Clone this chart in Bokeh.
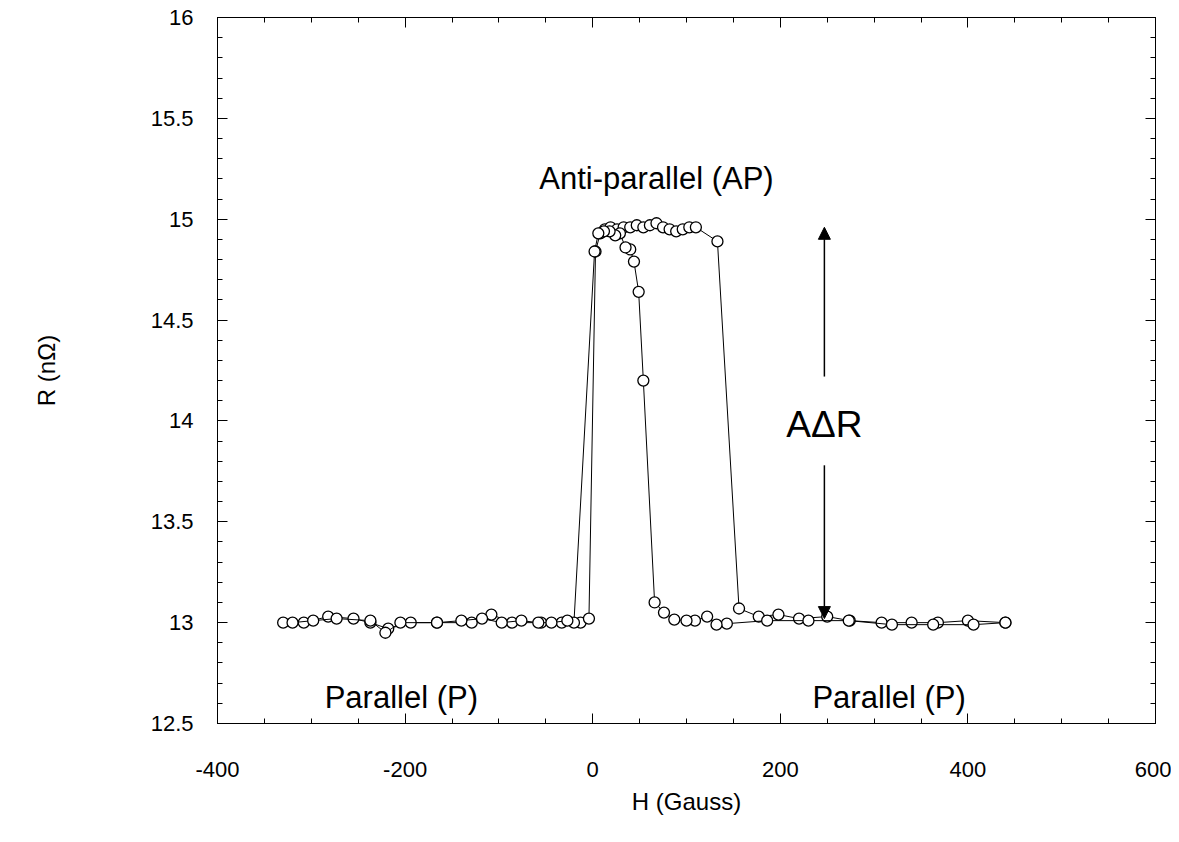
from bokeh.plotting import figure
from bokeh.models import LinearAxis, SingleIntervalTicker, Range1d, Arrow, NormalHead, Label, CustomJSTickFormatter
from bokeh.embed import file_html
from bokeh.resources import INLINE

# Field sweep up (increasing H)
h_up = [-330, -308, -282, -255, -237, -218, -194, -166, -129, -108, -86, -55, -33, -13, -4,
        3, 8, 13, 19, 26, 33, 40, 47, 54, 61, 68, 75, 82, 89, 96, 103, 110, 133,
        156, 177, 198, 220, 250, 274, 308, 340, 368, 400, 440]
r_up = [13.0, 13.0, 13.03, 13.02, 13.0, 12.97, 13.0, 13.0, 13.0, 13.04, 13.0, 13.0, 13.0, 13.0, 13.02,
        14.84, 14.93, 14.95, 14.96, 14.95, 14.96, 14.96, 14.97, 14.96, 14.97, 14.98, 14.96, 14.95, 14.94, 14.95, 14.96, 14.96, 14.89,
        13.07, 13.03, 13.04, 13.02, 13.03, 13.01, 13.0, 13.0, 13.0, 13.01, 13.0]

# Field sweep down (decreasing H)
h_dn = [440, 406, 363, 319, 273, 230, 186, 143, 132, 122, 109, 100, 87, 76, 66,
        54, 49, 44, 40, 35, 29, 24, 18, 12, 6, 2,
        -20, -27, -44, -58, -76, -97, -118, -140, -166, -205, -221, -237, -273, -298, -320]
r_dn = [13.0, 12.99, 12.99, 12.99, 13.01, 13.01, 13.01, 12.995, 12.99, 13.03, 13.01, 13.01, 13.015, 13.05, 13.1,
        14.2, 14.64, 14.79, 14.85, 14.86, 14.93, 14.92, 14.94, 14.94, 14.93, 14.84,
        13.0, 13.01, 13.0, 13.0, 13.01, 13.0, 13.02, 13.01, 13.0, 13.0, 12.95, 13.01, 13.02, 13.01, 13.0]

FONT = "Liberation Sans"

p = figure(width=1171, height=834, output_backend="svg", toolbar_location=None,
           x_range=Range1d(-400, 600), y_range=Range1d(12.5, 16),
           min_border_left=217, min_border_right=16, min_border_top=17, min_border_bottom=111,
           x_axis_label="H (Gauss)", y_axis_label="R (nΩ)")
p.xgrid.visible = False
p.ygrid.visible = False
p.outline_line_color = "black"
p.outline_line_width = 1
p.background_fill_color = "white"
p.border_fill_color = "white"

plain = CustomJSTickFormatter(code="return String(tick);")
p.xaxis.ticker = SingleIntervalTicker(interval=200, num_minor_ticks=4)
p.yaxis.ticker = SingleIntervalTicker(interval=0.5, num_minor_ticks=5)
p.xaxis.formatter = plain
p.yaxis.formatter = CustomJSTickFormatter(code="return String(tick);")

for ax in (p.xaxis[0], p.yaxis[0]):
    ax.major_tick_in = 10
    ax.major_tick_out = 0
    ax.minor_tick_in = 5
    ax.minor_tick_out = 0
    ax.axis_line_color = "black"
    ax.major_tick_line_color = "black"
    ax.minor_tick_line_color = "black"
    ax.major_label_text_font = FONT
    ax.major_label_text_font_size = "22px"
    ax.major_label_text_color = "black"
    ax.axis_label_text_font = FONT
    ax.axis_label_text_font_size = "24px"
    ax.axis_label_text_font_style = "normal"
    ax.axis_label_text_color = "black"

p.xaxis.major_label_standoff = 38
p.xaxis.axis_label_standoff = 8
p.yaxis.major_label_standoff = 24
p.yaxis.axis_label_standoff = 88

# mirrored tick marks on top and right
top = LinearAxis(ticker=SingleIntervalTicker(interval=200, num_minor_ticks=4),
                 formatter=CustomJSTickFormatter(code="return '';"))
right = LinearAxis(ticker=SingleIntervalTicker(interval=0.5, num_minor_ticks=5),
                   formatter=CustomJSTickFormatter(code="return '';"))
for ax in (top, right):
    ax.major_tick_in = 10
    ax.major_tick_out = 0
    ax.minor_tick_in = 5
    ax.minor_tick_out = 0
    ax.major_label_standoff = 0
    ax.axis_line_color = "black"
p.add_layout(top, "above")
p.add_layout(right, "right")

for hx, ry in ((h_up, r_up), (h_dn, r_dn)):
    p.line(hx, ry, line_color="black", line_width=1)
    p.scatter(hx, ry, marker="circle", size=11, fill_color="white",
              line_color="black", line_width=1.3)

# ΔR arrows
p.add_layout(Arrow(end=NormalHead(size=12, fill_color="black", line_color="black"),
                   x_start=247, y_start=14.22, x_end=247, y_end=14.96,
                   line_color="black", line_width=1.5))
p.add_layout(Arrow(end=NormalHead(size=12, fill_color="black", line_color="black"),
                   x_start=247, y_start=13.78, x_end=247, y_end=13.02,
                   line_color="black", line_width=1.5))

p.add_layout(Label(x=247, y=13.98, text="AΔR", text_font=FONT, text_font_size="37px",
                   text_align="center", text_baseline="middle", text_color="black"))
p.add_layout(Label(x=68, y=15.2, text="Anti-parallel (AP)", text_font=FONT, text_font_size="31px",
                   text_align="center", text_baseline="middle", text_color="black"))
p.add_layout(Label(x=-204, y=12.63, text="Parallel (P)", text_font=FONT, text_font_size="31px",
                   text_align="center", text_baseline="middle", text_color="black"))
p.add_layout(Label(x=316, y=12.63, text="Parallel (P)", text_font=FONT, text_font_size="31px",
                   text_align="center", text_baseline="middle", text_color="black"))

open("out.html", "w").write(file_html(p, INLINE))
